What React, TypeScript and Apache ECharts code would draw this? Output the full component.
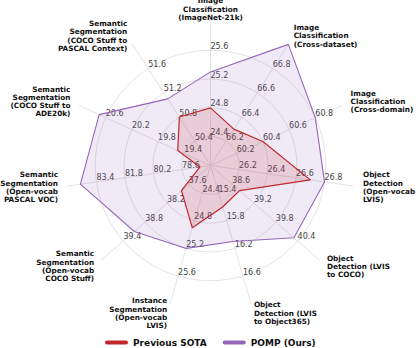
import React, { useEffect, useRef } from 'react';
import * as echarts from 'echarts';

// Axes in the reference's clockwise order, starting at the top
const axisNames = [
  'Image\nClassification\n(ImageNet-21k)',
  'Image\nClassification\n(Cross-dataset)',
  'Image\nClassification\n(Cross-domain)',
  'Object\nDetection\n(Open-vocab\nLVIS)',
  'Object\nDetection (LVIS\nto COCO)',
  'Object\nDetection (LVIS\nto Object365)',
  'Instance\nSegmentation\n(Open-vocab\nLVIS)',
  'Semantic\nSegmentation\n(Open-vocab\nCOCO Stuff)',
  'Semantic\nSegmentation\n(Open-vocab\nPASCAL VOC)',
  'Semantic\nSegmentation\n(COCO Stuff to\nADE20k)',
  'Semantic\nSegmentation\n(COCO Stuff to\nPASCAL Context)',
];
const axisMin = [24.0, 66.0, 60.0, 26.0, 38.0, 15.0, 24.0, 37.0, 77.0, 19.0, 50.0];
const axisMax = [26.0, 67.0, 61.0, 27.0, 41.0, 17.0, 26.0, 40.0, 85.0, 21.0, 52.0];
const previousSota = [24.8, 66.3, 60.4, 26.7, 38.8, 15.6, 24.9, 37.8, 77.6, 19.5, 50.8];
const pomp = [25.3, 67.0, 60.8, 26.8, 40.3, 16.1, 25.2, 39.1, 84.3, 20.7, 51.1];
const seriesNames = ['Previous SOTA', 'POMP (Ours)'];

const RED = '#c0282d';
const PURPLE = '#9467bd';
const FONT = 'DejaVu Sans';

export default function App() {
  const ref = useRef<HTMLDivElement>(null);
  useEffect(() => {
    if (!ref.current) return;
    const chart = echarts.init(ref.current, undefined, { renderer: 'svg' });
    // ECharts radar runs counter-clockwise; reorder so the picture runs clockwise
    const n = axisNames.length;
    const order = [0, ...Array.from({ length: n - 1 }, (_, k) => n - 1 - k)];
    const pick = (arr: any[]) => order.map((i) => arr[i]);
    const indicator = order.map((i) => ({
      name: axisNames[i],
      min: axisMin[i],
      max: axisMax[i],
      ...(i === 0 ? { nameGap: 0 } : {}),
    }));
    chart.setOption({
      animation: false,
      backgroundColor: '#ffffff',
      color: [RED, PURPLE],
      legend: {
        data: seriesNames,
        left: 100,
        top: 333,
        itemWidth: 23,
        itemHeight: 4,
        itemGap: 16,
        icon: 'path://M2,0H21A2,2,0,0,1,21,4H2A2,2,0,0,1,2,0Z',
        textStyle: { fontFamily: FONT, fontSize: 9, fontWeight: 'bold', color: '#111' },
      },
      radar: {
        center: [210.5, 165.5],
        radius: 144,
        startAngle: 90,
        shape: 'circle',
        splitNumber: 5,
        indicator,
        axisNameGap: 10,
        axisName: {
          color: '#111',
          fontFamily: FONT,
          fontSize: 7.3,
          fontWeight: 'bold',
          lineHeight: 8.3,
        },
        axisLine: { lineStyle: { color: '#dcdcdc', width: 0.8 } },
        splitLine: {
          lineStyle: {
            color: ['#dcdcdc', '#dcdcdc', '#dcdcdc', '#dcdcdc', '#dcdcdc', 'rgba(0,0,0,0)'],
            width: 0.8,
          },
        },
        splitArea: { show: false },
        axisTick: { show: false },
        axisLabel: {
          show: true,
          margin: 0,
          align: 'left',
          verticalAlign: 'bottom',
          fontFamily: FONT,
          fontSize: 8,
          color: '#444',
          formatter: (v: number, idx: number) =>
            idx === 0 || idx === 5 ? '' : Number(v).toFixed(1),
        },
      },
      series: [
        {
          type: 'radar',
          name: seriesNames[0],
          z: 3,
          symbol: 'none',
          itemStyle: { color: RED },
          lineStyle: { color: RED, width: 1.2 },
          areaStyle: { color: 'rgba(192,40,45,0.22)' },
          data: [{ value: pick(previousSota), name: seriesNames[0] }],
        },
        {
          type: 'radar',
          name: seriesNames[1],
          z: 2,
          symbol: 'none',
          itemStyle: { color: PURPLE },
          lineStyle: { color: PURPLE, width: 1.1 },
          areaStyle: { color: 'rgba(148,103,189,0.2)' },
          data: [{ value: pick(pomp), name: seriesNames[1] }],
        },
      ],
    });
    return () => chart.dispose();
  }, []);
  return (
    <div
      ref={ref}
      style={{ position: 'fixed', left: 0, top: 0, width: 416, height: 348 }}
    />
  );
}
